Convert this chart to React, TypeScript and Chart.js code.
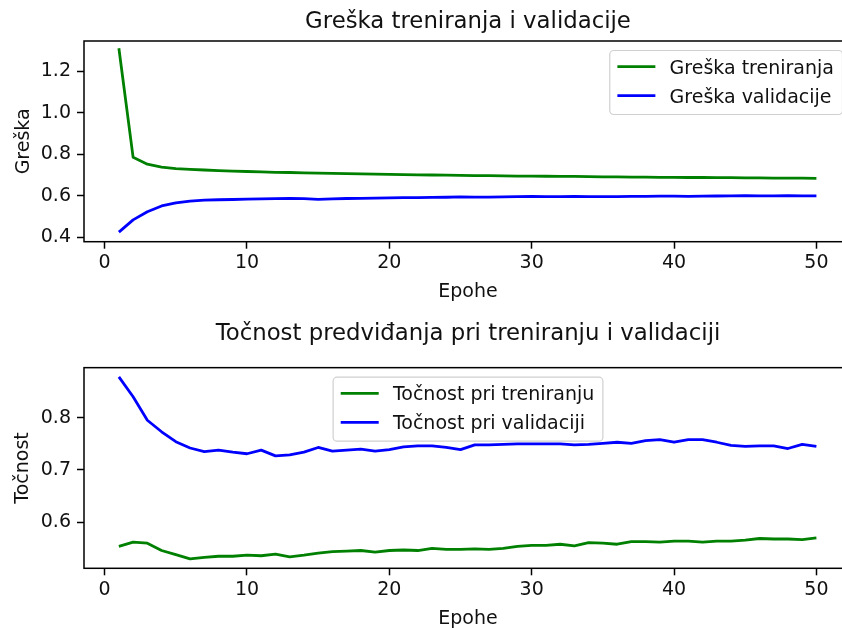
import React, { useEffect, useRef } from 'react';
import { Chart, registerables } from 'chart.js';

Chart.register(...registerables);

const epochs = [1, 2, 3, 4, 5, 6, 7, 8, 9, 10, 11, 12, 13, 14, 15, 16, 17, 18, 19, 20, 21, 22, 23, 24, 25, 26, 27, 28, 29, 30, 31, 32, 33, 34, 35, 36, 37, 38, 39, 40, 41, 42, 43, 44, 45, 46, 47, 48, 49, 50];

const trainLoss = [1.31, 0.785, 0.752, 0.738, 0.731, 0.727, 0.724, 0.721, 0.719, 0.717, 0.715, 0.713, 0.712, 0.710, 0.709, 0.708, 0.707, 0.705, 0.704, 0.703, 0.702, 0.701, 0.700, 0.699, 0.698, 0.697, 0.697, 0.696, 0.695, 0.695, 0.694, 0.693, 0.693, 0.692, 0.691, 0.691, 0.690, 0.690, 0.689, 0.689, 0.688, 0.688, 0.687, 0.687, 0.686, 0.686, 0.685, 0.685, 0.685, 0.684];

const valLoss = [0.425, 0.484, 0.523, 0.551, 0.566, 0.574, 0.579, 0.581, 0.582, 0.584, 0.585, 0.586, 0.588, 0.586, 0.583, 0.585, 0.587, 0.588, 0.589, 0.590, 0.591, 0.591, 0.592, 0.593, 0.595, 0.594, 0.594, 0.595, 0.596, 0.597, 0.596, 0.596, 0.597, 0.596, 0.596, 0.596, 0.597, 0.597, 0.598, 0.598, 0.597, 0.598, 0.599, 0.600, 0.601, 0.600, 0.600, 0.601, 0.600, 0.600];

const trainAcc = [0.554, 0.562, 0.560, 0.546, 0.538, 0.530, 0.533, 0.535, 0.535, 0.537, 0.536, 0.539, 0.534, 0.537, 0.541, 0.544, 0.545, 0.546, 0.543, 0.546, 0.547, 0.546, 0.550, 0.548, 0.548, 0.549, 0.548, 0.550, 0.554, 0.556, 0.556, 0.558, 0.555, 0.561, 0.560, 0.558, 0.563, 0.563, 0.562, 0.564, 0.564, 0.562, 0.564, 0.564, 0.566, 0.569, 0.568, 0.568, 0.567, 0.570];

const valAcc = [0.878, 0.840, 0.795, 0.773, 0.754, 0.742, 0.735, 0.738, 0.734, 0.731, 0.738, 0.727, 0.729, 0.734, 0.743, 0.736, 0.738, 0.740, 0.736, 0.739, 0.744, 0.746, 0.746, 0.743, 0.739, 0.748, 0.748, 0.749, 0.750, 0.750, 0.750, 0.750, 0.748, 0.749, 0.751, 0.753, 0.751, 0.756, 0.758, 0.753, 0.758, 0.758, 0.753, 0.747, 0.745, 0.746, 0.746, 0.741, 0.749, 0.745];

const xTicks = [0, 10, 20, 30, 40, 50];
const lossTicks = [0.4, 0.6, 0.8, 1.0, 1.2];
const accTicks = [0.6, 0.7, 0.8];

const lossTitle = 'Greška treniranja i validacije';
const accTitle = 'Točnost predviđanja pri treniranju i validaciji';
const lossLabels = ['Greška treniranja', 'Greška validacije'];
const accLabels = ['Točnost pri treniranju', 'Točnost pri validaciji'];
const xLabel = 'Epohe';
const lossYLabel = 'Greška';
const accYLabel = 'Točnost';

const FONT = "'DejaVu Sans', sans-serif";
const FS = 19;
const GREEN = '#008000';
const BLUE = '#0000ff';
const TEXT = '#111';

const framePlugin = {
  id: 'mplFrame',
  afterDatasetsDraw(chart: any) {
    const { ctx, chartArea: a } = chart;
    ctx.save();
    ctx.strokeStyle = '#000';
    ctx.lineWidth = 1.5;
    ctx.strokeRect(a.left, a.top, a.right - a.left, a.bottom - a.top);
    ctx.restore();
  },
};

const legendPlugin = {
  id: 'mplLegend',
  afterDraw(chart: any, _args: any, opts: any) {
    const { ctx, chartArea: a } = chart;
    ctx.save();
    ctx.font = `${FS}px ${FONT}`;
    const items = chart.data.datasets.map((d: any) => ({ label: d.label, color: d.borderColor }));
    const tw = Math.max(...items.map((i: any) => ctx.measureText(i.label).width));
    const pad = 0.4 * FS;
    const hl = 2 * FS;
    const htp = 0.8 * FS;
    const bap = 0.5 * FS;
    const w = pad + hl + htp + tw + pad;
    const h = 64;
    let x: number;
    if (opts.loc === 'upper right') x = a.right - bap - w;
    else x = (a.left + a.right) / 2 - w / 2;
    const y = a.top + bap;
    const r = 4;
    ctx.beginPath();
    ctx.moveTo(x + r, y);
    ctx.lineTo(x + w - r, y);
    ctx.arcTo(x + w, y, x + w, y + r, r);
    ctx.lineTo(x + w, y + h - r);
    ctx.arcTo(x + w, y + h, x + w - r, y + h, r);
    ctx.lineTo(x + r, y + h);
    ctx.arcTo(x, y + h, x, y + h - r, r);
    ctx.lineTo(x, y + r);
    ctx.arcTo(x, y, x + r, y, r);
    ctx.closePath();
    ctx.fillStyle = 'rgba(255,255,255,0.8)';
    ctx.fill();
    ctx.strokeStyle = '#d0d0d0';
    ctx.lineWidth = 1.2;
    ctx.stroke();
    const rows = [16.2, 45.2];
    items.forEach((it: any, i: number) => {
      const ly = y + rows[i];
      ctx.beginPath();
      ctx.moveTo(x + pad, ly);
      ctx.lineTo(x + pad + hl, ly);
      ctx.strokeStyle = it.color;
      ctx.lineWidth = 2.8;
      ctx.stroke();
      ctx.fillStyle = TEXT;
      ctx.textBaseline = 'alphabetic';
      ctx.textAlign = 'left';
      ctx.fillText(it.label, x + pad + hl + htp - 1, ly + 6.9);
    });
    ctx.restore();
  },
};

function makeConfig(p: {
  title: string;
  titlePad: { top: number; bottom: number };
  labels: string[];
  series: number[][];
  yMin: number;
  yMax: number;
  yTicks: number[];
  yLabel: string;
  yTitlePad: number;
  xHeight: number;
  xTitlePadBottom: number;
  loc: string;
}): any {
  const font = { family: FONT, size: FS };
  return {
    type: 'line',
    data: {
      datasets: p.series.map((s, i) => ({
        label: p.labels[i],
        data: epochs.map((e, j) => ({ x: e, y: s[j] })),
        borderColor: i === 0 ? GREEN : BLUE,
        backgroundColor: i === 0 ? GREEN : BLUE,
        borderWidth: 2.8,
        pointRadius: 0,
        tension: 0,
        fill: false,
        borderJoinStyle: 'round',
      })),
    },
    options: {
      animation: false,
      responsive: false,
      maintainAspectRatio: false,
      devicePixelRatio: 1,
      events: [],
      layout: { padding: 0 },
      plugins: {
        legend: { display: false },
        tooltip: { enabled: false },
        title: {
          display: true,
          text: p.title,
          fullSize: false,
          color: TEXT,
          font: { family: FONT, size: 22.8, weight: 'normal' },
          padding: p.titlePad,
        },
        mplLegend: { loc: p.loc },
      },
      scales: {
        x: {
          type: 'linear',
          min: -1.45,
          max: 52.5,
          afterBuildTicks: (s: any) => {
            s.ticks = xTicks.map((v) => ({ value: v }));
          },
          afterFit: (s: any) => {
            s.height = p.xHeight;
          },
          ticks: {
            font,
            color: TEXT,
            padding: 3,
            maxRotation: 0,
            autoSkip: false,
            callback: (v: any) => String(v),
          },
          grid: {
            drawOnChartArea: false,
            drawTicks: true,
            tickLength: 7,
            tickWidth: 1.5,
            tickColor: '#000',
          },
          border: { display: false },
          title: {
            display: true,
            text: xLabel,
            color: TEXT,
            font,
            padding: { top: 0, bottom: p.xTitlePadBottom },
          },
        },
        y: {
          type: 'linear',
          min: p.yMin,
          max: p.yMax,
          afterBuildTicks: (s: any) => {
            s.ticks = p.yTicks.map((v) => ({ value: v }));
          },
          afterFit: (s: any) => {
            s.width = 84;
          },
          ticks: {
            font,
            color: TEXT,
            padding: 6,
            callback: (v: any) => Number(v).toFixed(1),
          },
          grid: {
            drawOnChartArea: false,
            drawTicks: true,
            tickLength: 7,
            tickWidth: 1.5,
            tickColor: '#000',
          },
          border: { display: false },
          title: {
            display: true,
            text: p.yLabel,
            color: TEXT,
            font,
            padding: { top: p.yTitlePad, bottom: 0 },
          },
        },
      },
    },
    plugins: [framePlugin, legendPlugin],
  };
}

export default function App() {
  const topRef = useRef<HTMLCanvasElement>(null);
  const botRef = useRef<HTMLCanvasElement>(null);

  useEffect(() => {
    const c1 = new Chart(
      topRef.current as HTMLCanvasElement,
      makeConfig({
        title: lossTitle,
        titlePad: { top: 8.8, bottom: 4.84 },
        labels: lossLabels,
        series: [trainLoss, valLoss],
        yMin: 0.379,
        yMax: 1.345,
        yTicks: lossTicks,
        yLabel: lossYLabel,
        yTitlePad: 12.2,
        xHeight: 72.3,
        xTitlePadBottom: 10.3,
        loc: 'upper right',
      })
    );
    const c2 = new Chart(
      botRef.current as HTMLCanvasElement,
      makeConfig({
        title: accTitle,
        titlePad: { top: 6.4, bottom: 19.9 },
        labels: accLabels,
        series: [trainAcc, valAcc],
        yMin: 0.512,
        yMax: 0.8956,
        yTicks: accTicks,
        yLabel: accYLabel,
        yTitlePad: 12,
        xHeight: 59.7,
        xTitlePadBottom: -2,
        loc: 'upper center',
      })
    );
    return () => {
      c1.destroy();
      c2.destroy();
    };
  }, []);

  return (
    <div
      style={{
        position: 'fixed',
        left: 0,
        top: 0,
        width: 842,
        height: 628,
        overflow: 'hidden',
        background: '#fff',
      }}
    >
      <canvas
        ref={topRef}
        width={852}
        height={314}
        style={{ position: 'absolute', left: 0, top: 0, width: 852, height: 314 }}
      />
      <canvas
        ref={botRef}
        width={852}
        height={314}
        style={{ position: 'absolute', left: 0, top: 314, width: 852, height: 314 }}
      />
    </div>
  );
}
